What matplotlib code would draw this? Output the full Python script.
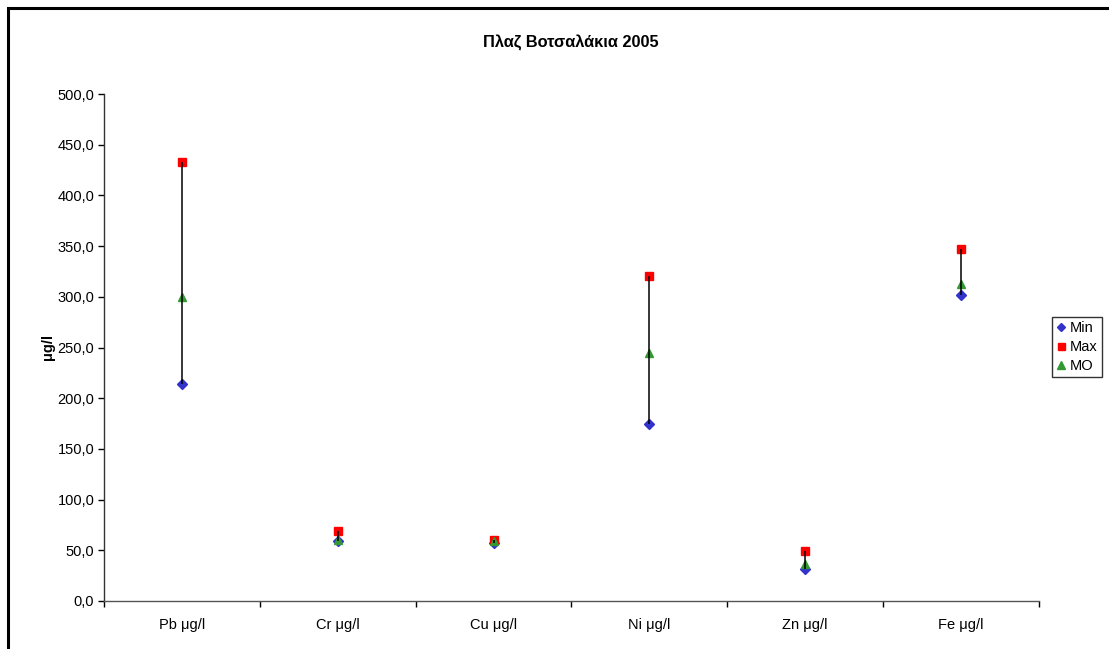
import matplotlib
matplotlib.use("Agg")
import matplotlib.pyplot as plt
from matplotlib.patches import Rectangle
from matplotlib.ticker import FuncFormatter, MultipleLocator, FixedLocator
import numpy as np

plt.rcParams['font.family'] = ['Liberation Sans', 'DejaVu Sans']

categories = ["Pb μg/l", "Cr μg/l", "Cu μg/l", "Ni μg/l", "Zn μg/l", "Fe μg/l"]
min_vals = [214.0, 59.0, 57.5, 174.5, 31.5, 301.5]
max_vals = [433.0, 69.5, 60.5, 320.5, 49.0, 347.5]
mo_vals = [299.5, 60.5, 59.0, 244.5, 36.0, 313.0]

W, H = 1109, 649
fig = plt.figure(figsize=(W / 100, H / 100), dpi=100)

# outer chart frame
fig.patches.append(Rectangle((7.5 / W, -0.05), 1.2, 1 - 7.5 / H + 0.05,
                             transform=fig.transFigure, fill=False,
                             edgecolor='black', linewidth=2.2, zorder=0))

ax = fig.add_axes([104 / W, 1 - 601 / H, (1039 - 104) / W, (601 - 94) / H])
x = np.arange(len(categories))

# high-low lines
ax.vlines(x, min_vals, max_vals, color='black', linewidth=1.1, zorder=4)

ax.plot(x, min_vals, linestyle='none', marker='D', markersize=5,
        color='#3333CC', label='Min', zorder=3)
ax.plot(x, max_vals, linestyle='none', marker='s', markersize=5.6,
        color='#FF0000', label='Max', zorder=3)
ax.plot(x, mo_vals, linestyle='none', marker='^', markersize=6.4,
        color='#339933', label='MO', zorder=3)

ax.set_xlim(-0.5, len(categories) - 0.5)
ax.set_ylim(0, 500)
ax.yaxis.set_major_locator(MultipleLocator(50))
ax.yaxis.set_major_formatter(FuncFormatter(lambda v, p: f"{v:.1f}".replace('.', ',')))
ax.xaxis.set_major_locator(FixedLocator(np.arange(-0.5, len(categories))))
ax.set_xticklabels([])
ax.xaxis.set_minor_locator(FixedLocator(x))
ax.set_xticklabels(categories, minor=True)
ax.tick_params(axis='x', which='minor', length=0, pad=12, labelsize=10.5)
ax.tick_params(axis='x', which='major', length=4, width=1, direction='out')
ax.tick_params(axis='y', length=4, width=1, direction='out', labelsize=10.5, pad=3)

for side in ('top', 'right'):
    ax.spines[side].set_visible(False)
ax.spines['left'].set_linewidth(1)
ax.spines['bottom'].set_linewidth(1)
ax.spines['bottom'].set_color('#555555')
ax.spines['left'].set_color('#333333')

ax.set_ylabel('μg/l', fontsize=10.5, fontweight='bold', labelpad=2)
fig.text(571 / W, 1 - 43 / H, 'Πλαζ Βοτσαλάκια 2005', ha='center', va='center',
         fontsize=11.8, fontweight='bold')

leg = ax.legend(loc='center left', bbox_to_anchor=(1052 / W, 1 - 347 / H),
                bbox_transform=fig.transFigure, frameon=True, fancybox=False,
                edgecolor='black', fontsize=10.5, handlelength=0.6,
                handletextpad=0.3, borderpad=0.3, labelspacing=0.35,
                borderaxespad=0, markerscale=0.9)
leg.get_frame().set_linewidth(1)

fig.savefig('out.png', dpi=100, facecolor='white')
